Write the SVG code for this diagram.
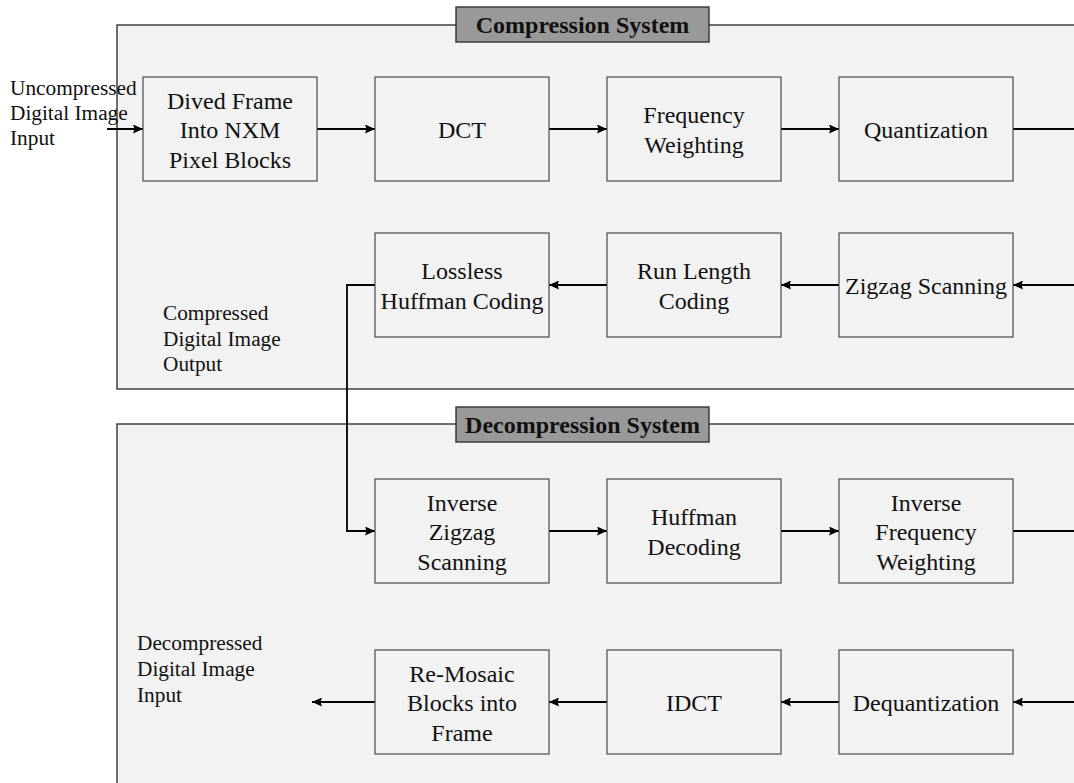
<svg xmlns="http://www.w3.org/2000/svg" width="1074" height="783" viewBox="0 0 1074 783">
<defs>
<style>
.panel{fill:#f2f2f2;stroke:#333;stroke-width:1.4}
.title{fill:#999;stroke:#333;stroke-width:1.4}
.ttl{font-family:"Liberation Serif","Times New Roman",serif;font-size:24px;font-weight:bold;fill:#111;text-anchor:middle}
.box{fill:#f2f2f2;stroke:#555;stroke-width:1.3}
.bt{font-family:"Liberation Serif","Times New Roman",serif;font-size:24px;fill:#111;text-anchor:middle}
.lbl{font-family:"Liberation Serif","Times New Roman",serif;font-size:21.3px;fill:#111}
.c{fill:none;stroke:#000;stroke-width:1.8}
</style>
<marker id="ah" markerWidth="10" markerHeight="9" refX="10" refY="4.5" orient="auto" markerUnits="userSpaceOnUse">
<path d="M0,0 L10,4.5 L0,9 L1.5,4.5 z" fill="#000"/>
</marker>
</defs>
<rect width="1074" height="783" fill="#fff"/>

<g id="compression-panel">
<rect class="panel" x="117" y="25" width="1000" height="364"/>
<rect class="title" x="456" y="7" width="253" height="35"/>
<text class="ttl" x="582.5" y="33">Compression System</text>
</g>
<g id="decompression-panel">
<rect class="panel" x="117" y="424" width="1000" height="400"/>
<rect class="title" x="456" y="407" width="253" height="35"/>
<text class="ttl" x="582.5" y="432.5">Decompression System</text>
</g>

<g id="label-input">
<text class="lbl" x="10" y="95">Uncompressed</text>
<text class="lbl" x="10" y="120">Digital Image</text>
<text class="lbl" x="10" y="145">Input</text>
</g>
<g id="label-compressed-output">
<text class="lbl" x="163" y="320">Compressed</text>
<text class="lbl" x="163" y="345.5">Digital Image</text>
<text class="lbl" x="163" y="371">Output</text>
</g>
<g id="label-decompressed">
<text class="lbl" x="137" y="650">Decompressed</text>
<text class="lbl" x="137" y="676">Digital Image</text>
<text class="lbl" x="137" y="701.5">Input</text>
</g>

<g id="connectors">
<path class="c" d="M107,129 H143" marker-end="url(#ah)"/>
<path class="c" d="M317,129 H375" marker-end="url(#ah)"/>
<path class="c" d="M549,129 H607" marker-end="url(#ah)"/>
<path class="c" d="M781,129 H839" marker-end="url(#ah)"/>
<path class="c" d="M1013,129 H1080"/>
<path class="c" d="M1080,285 H1013" marker-end="url(#ah)"/>
<path class="c" d="M839,285 H781" marker-end="url(#ah)"/>
<path class="c" d="M607,285 H549" marker-end="url(#ah)"/>
<path class="c" d="M375,285 H347 V531 H375" marker-end="url(#ah)"/>
<path class="c" d="M549,531 H607" marker-end="url(#ah)"/>
<path class="c" d="M781,531 H839" marker-end="url(#ah)"/>
<path class="c" d="M1013,531 H1080"/>
<path class="c" d="M1080,702 H1013" marker-end="url(#ah)"/>
<path class="c" d="M839,702 H781" marker-end="url(#ah)"/>
<path class="c" d="M607,702 H549" marker-end="url(#ah)"/>
<path class="c" d="M375,702 H312" marker-end="url(#ah)"/>
</g>

<g id="dived-frame">
<rect class="box" x="143" y="77" width="174" height="104"/>
<text class="bt" x="230" y="108.5">Dived Frame</text>
<text class="bt" x="230" y="138">Into NXM</text>
<text class="bt" x="230" y="167.5">Pixel Blocks</text>
</g>
<g id="dct">
<rect class="box" x="375" y="77" width="174" height="104"/>
<text class="bt" x="462" y="138">DCT</text>
</g>
<g id="frequency-weighting">
<rect class="box" x="607" y="77" width="174" height="104"/>
<text class="bt" x="694" y="123.3">Frequency</text>
<text class="bt" x="694" y="152.7">Weighting</text>
</g>
<g id="quantization">
<rect class="box" x="839" y="77" width="174" height="104"/>
<text class="bt" x="926" y="138">Quantization</text>
</g>

<g id="zigzag-scanning">
<rect class="box" x="839" y="233" width="174" height="104"/>
<text class="bt" x="926" y="294">Zigzag Scanning</text>
</g>
<g id="run-length-coding">
<rect class="box" x="607" y="233" width="174" height="104"/>
<text class="bt" x="694" y="279.3">Run Length</text>
<text class="bt" x="694" y="308.7">Coding</text>
</g>
<g id="lossless-huffman">
<rect class="box" x="375" y="233" width="174" height="104"/>
<text class="bt" x="462" y="279.3">Lossless</text>
<text class="bt" x="462" y="308.7">Huffman Coding</text>
</g>

<g id="inverse-zigzag">
<rect class="box" x="375" y="479" width="174" height="104"/>
<text class="bt" x="462" y="510.5">Inverse</text>
<text class="bt" x="462" y="540">Zigzag</text>
<text class="bt" x="462" y="569.5">Scanning</text>
</g>
<g id="huffman-decoding">
<rect class="box" x="607" y="479" width="174" height="104"/>
<text class="bt" x="694" y="525.3">Huffman</text>
<text class="bt" x="694" y="554.7">Decoding</text>
</g>
<g id="inverse-frequency-weighting">
<rect class="box" x="839" y="479" width="174" height="104"/>
<text class="bt" x="926" y="510.5">Inverse</text>
<text class="bt" x="926" y="540">Frequency</text>
<text class="bt" x="926" y="569.5">Weighting</text>
</g>

<g id="dequantization">
<rect class="box" x="839" y="650" width="174" height="104"/>
<text class="bt" x="926" y="711">Dequantization</text>
</g>
<g id="idct">
<rect class="box" x="607" y="650" width="174" height="104"/>
<text class="bt" x="694" y="711">IDCT</text>
</g>
<g id="re-mosaic">
<rect class="box" x="375" y="650" width="174" height="104"/>
<text class="bt" x="462" y="681.5">Re-Mosaic</text>
<text class="bt" x="462" y="711">Blocks into</text>
<text class="bt" x="462" y="740.5">Frame</text>
</g>
</svg>
